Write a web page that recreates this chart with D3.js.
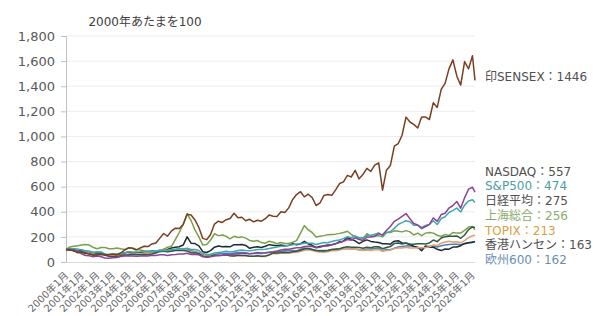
<!DOCTYPE html>
<html>
<head>
<meta charset="utf-8">
<script src="https://cdn.jsdelivr.net/npm/d3@7"></script>
<style>
  body { margin: 0; background: #fff; }
  text { font-family: "DejaVu Sans", "Noto Sans CJK JP", sans-serif; }
</style>
</head>
<body>
<script>
// quarterly points, 2000-01 = 100
var dates = [
  "2000-01","2000-04","2000-07","2000-10","2001-01","2001-04","2001-07","2001-10",
  "2002-01","2002-04","2002-07","2002-10","2003-01","2003-04","2003-07","2003-10",
  "2004-01","2004-04","2004-07","2004-10","2005-01","2005-04","2005-07","2005-10",
  "2006-01","2006-04","2006-07","2006-10","2007-01","2007-04","2007-07","2007-10",
  "2008-01","2008-04","2008-07","2008-10","2009-01","2009-04","2009-07","2009-10",
  "2010-01","2010-04","2010-07","2010-10","2011-01","2011-04","2011-07","2011-10",
  "2012-01","2012-04","2012-07","2012-10","2013-01","2013-04","2013-07","2013-10",
  "2014-01","2014-04","2014-07","2014-10","2015-01","2015-04","2015-07","2015-10",
  "2016-01","2016-04","2016-07","2016-10","2017-01","2017-04","2017-07","2017-10",
  "2018-01","2018-04","2018-07","2018-10","2019-01","2019-04","2019-07","2019-10",
  "2020-01","2020-04","2020-07","2020-10","2021-01","2021-04","2021-07","2021-10",
  "2022-01","2022-04","2022-07","2022-10","2023-01","2023-04","2023-07","2023-10",
  "2024-01","2024-04","2024-07","2024-10","2025-01","2025-04","2025-07","2025-10",
  "2026-01","2026-03"
];

var sensex = [100,96,90,73, 83,67,63,56, 63,65,58,57, 63,57,71,94,
  113,109,96,112, 125,123,144,152, 190,227,206,248, 269,267,298,381,
  375,335,275,188, 178,219,302,325, 315,337,346,388, 352,356,329,340,
  320,333,325,345, 375,365,362,400, 394,431,498,537, 560,519,540,513,
  450,470,530,537, 531,575,625,638, 690,677,730,662, 698,746,721,771,
  790,572,731,769, 923,942,1010,1154, 1115,1096,1067,1154, 1154,1135,1269,1231,
  1375,1423,1538,1610, 1480,1409,1596,1538, 1643,1446];
var nasdaq = [100,95,98,81, 66,52,49,42, 48,42,32,29, 33,36,43,47,
  50,48,45,48, 50,48,53,52, 57,57,52,58, 60,63,64,69,
  59,59,57,42, 37,42,48,52, 54,60,55,61, 66,70,68,65,
  69,75,72,74, 77,81,88,96, 101,101,108,113, 114,123,125,123,
  113,118,127,128, 138,147,155,165, 179,174,192,179, 172,197,199,204,
  226,216,250,283, 324,342,364,386, 344,307,295,266, 283,300,351,324,
  378,388,430,450, 482,428,511,580, 595,557];
var sp500 = [100,104,104,100, 96,86,86,77, 81,79,64,61, 63,63,71,74,
  81,80,79,81, 84,83,88,86, 91,93,91,99, 102,106,104,109,
  99,99,91,68, 59,62,71,76, 79,85,79,84, 92,96,92,89,
  94,100,99,101, 107,114,120,126, 127,134,138,144, 143,149,150,149,
  139,148,155,154, 163,171,176,186, 201,193,207,193, 193,209,213,221,
  232,207,234,243, 268,299,314,329, 321,293,293,276, 291,298,328,299,
  346,360,394,411, 429,398,453,486, 496,474];
var nikkei = [100,105,88,82, 73,73,63,55, 53,59,53,45, 44,41,51,56,
  57,62,59,58, 60,58,63,72, 87,89,82,86, 91,92,91,88,
  72,73,68,45, 42,46,55,52, 54,57,50,48, 54,52,52,46,
  46,50,46,47, 58,73,72,75, 78,75,82,86, 93,103,108,100,
  92,88,87,92, 100,101,105,116, 122,118,118,115, 109,117,113,121,
  122,106,116,123, 147,152,144,152, 142,141,146,145, 144,152,175,162,
  191,202,206,206, 208,189,215,258, 279,275];
var shanghai = [100,120,125,130, 135,140,135,115, 105,115,115,105, 105,112,105,100,
  112,112,100,95, 90,88,80,82, 88,100,118,125, 180,235,300,385,
  330,255,200,135, 140,175,225,210, 215,205,185,205, 195,200,190,172,
  165,172,155,150, 165,157,145,155, 148,148,157,170, 230,290,255,235,
  200,205,210,218, 220,222,228,235, 245,220,200,185, 185,225,205,208,
  210,200,235,235, 248,245,240,250, 240,215,230,210, 230,235,230,213,
  203,220,210,235, 230,230,252,278, 282,256];
var topix = [100,100,91,85, 76,76,71,62, 59,65,59,50, 49,46,56,61,
  64,69,66,65, 68,68,71,82, 97,100,91,95, 100,102,100,95,
  79,79,74,53, 47,49,56,52, 53,58,50,48, 53,50,50,45,
  45,48,44,44, 55,68,66,70, 72,69,75,78, 84,94,98,92,
  84,79,77,82, 89,90,95,105, 108,102,103,97, 92,95,92,98,
  99,86,91,96, 108,112,112,118, 112,112,114,114, 116,121,135,132,
  150,159,165,159, 162,153,171,194, 209,213];
var hangseng = [100,94,99,88, 91,75,74,59, 65,65,59,53, 56,51,59,71,
  79,71,74,76, 81,82,88,85, 93,99,100,112, 118,121,135,200,
  150,147,129,82, 76,91,118,128, 121,124,121,138, 138,139,132,109,
  118,121,116,126, 138,134,129,135, 129,132,145,138, 144,165,144,133,
  116,124,129,135, 137,145,161,166, 194,181,168,147, 164,176,164,159,
  155,145,145,142, 166,169,152,149, 140,124,118,90, 128,117,118,101,
  91,104,102,119, 119,130,146,153, 156,163];
var stoxx600 = [100,103,104,101, 95,89,84,74, 80,78,61,51, 53,49,54,55,
  59,61,58,61, 65,68,73,76, 81,86,84,92, 97,103,103,105,
  89,84,73,57, 50,51,58,66, 68,70,66,72, 76,76,73,65,
  68,69,68,72, 77,78,80,85, 89,91,92,89, 100,111,105,99,
  91,92,91,92, 99,104,103,105, 108,103,104,97, 93,104,104,107,
  112,89,99,97, 109,119,124,127, 130,123,114,105, 122,126,124,119,
  130,136,139,141, 142,138,147,154, 162,162];

var names = ["印SENSEX", "NASDAQ", "S&P500", "日経平均", "上海総合", "TOPIX", "香港ハンセン", "欧州600"];
var lineColors = ["#7a3f22", "#8e4496", "#3fa8b0", "#2e5a46", "#7aa04a", "#e0a070", "#1e2b33", "#4f7fb8"];
var labelColors = ["#505050", "#505050", "#4a9f9f", "#505050", "#8aab6a", "#d8a040", "#505050", "#6a8fb0"];
var yTicks = [0, 200, 400, 600, 800, 1000, 1200, 1400, 1600, 1800];
var title = "2000年あたまを100";

var width = 600,
    height = 316,
    margin = { top: 36, right: 125, bottom: 54, left: 66 };

var parse = d3.timeParse("%Y-%m");
var seriesValues = [sensex, nasdaq, sp500, nikkei, shanghai, topix, hangseng, stoxx600];
var series = names.map(function(n, i) {
    return {
        name: n,
        lineColor: lineColors[i],
        labelColor: labelColors[i],
        values: seriesValues[i].map(function(v, j) { return { date: parse(dates[j]), value: v }; })
    };
});

var x = d3.scaleTime()
    .domain([parse(dates[0]), parse(dates[dates.length - 1])])
    .range([margin.left, width - margin.right]);

var y = d3.scaleLinear()
    .domain([0, 1800])
    .range([height - margin.bottom, margin.top]);

var svg = d3.select("body").append("svg")
    .attr("width", width)
    .attr("height", height);

svg.append("text")
    .attr("x", 145)
    .attr("y", 26)
    .attr("text-anchor", "middle")
    .attr("font-size", "12px")
    .attr("fill", "#404040")
    .text(title);

// gridlines
svg.append("g")
    .selectAll("line")
    .data(yTicks.slice(1))
    .enter().append("line")
        .attr("x1", margin.left)
        .attr("x2", width - margin.right)
        .attr("y1", function(d) { return y(d); })
        .attr("y2", function(d) { return y(d); })
        .attr("stroke", "#ececec")
        .attr("stroke-width", 1);

// y axis
var yAxis = svg.append("g")
    .attr("transform", "translate(" + margin.left + ",0)")
    .call(d3.axisLeft(y).tickValues(yTicks).tickSize(5).tickPadding(6).tickFormat(d3.format(",")));
yAxis.select(".domain").attr("stroke", "#bfbfbf");
yAxis.selectAll(".tick line").attr("stroke", "#bfbfbf");
yAxis.selectAll("text")
    .attr("font-size", "13px")
    .attr("fill", "#595959")
    .style("font-family", "'DejaVu Sans', sans-serif");

// x axis
var xTicks = d3.range(2000, 2027).map(function(yr) { return parse(yr + "-01"); });
svg.append("line")
    .attr("x1", margin.left)
    .attr("x2", width - margin.right)
    .attr("y1", y(0) + 0.5)
    .attr("y2", y(0) + 0.5)
    .attr("stroke", "#d9d9d9");

svg.append("g")
    .selectAll("text")
    .data(xTicks)
    .enter().append("text")
        .attr("transform", function(d) { return "translate(" + (x(d) + 3) + "," + (y(0) + 14) + ") rotate(-45)"; })
        .attr("text-anchor", "end")
        .attr("font-size", "10px")
        .attr("fill", "#666")
        .text(function(d) { return d.getFullYear() + "年1月"; });

// lines
var line = d3.line()
    .x(function(d) { return x(d.date); })
    .y(function(d) { return y(d.value); });

svg.append("g")
    .selectAll("path")
    .data(series.slice().reverse())
    .enter().append("path")
        .attr("d", function(d) { return line(d.values); })
        .attr("fill", "none")
        .attr("stroke", function(d) { return d.lineColor; })
        .attr("stroke-width", 1.5)
        .attr("stroke-linejoin", "round");

// labels
svg.append("g")
    .selectAll("text")
    .data(series)
    .enter().append("text")
        .attr("x", 485)
        .attr("y", function(d, i) {
            if (i == 0) return y(d.values[d.values.length - 1].value) - 4;
            return 171.5 + (i - 1) * 14.7;
        })
        .attr("dy", "0.35em")
        .attr("font-size", "12px")
        .attr("fill", function(d) { return d.labelColor; })
        .text(function(d) { return d.name + "：" + d.values[d.values.length - 1].value; });
</script>
</body>
</html>
